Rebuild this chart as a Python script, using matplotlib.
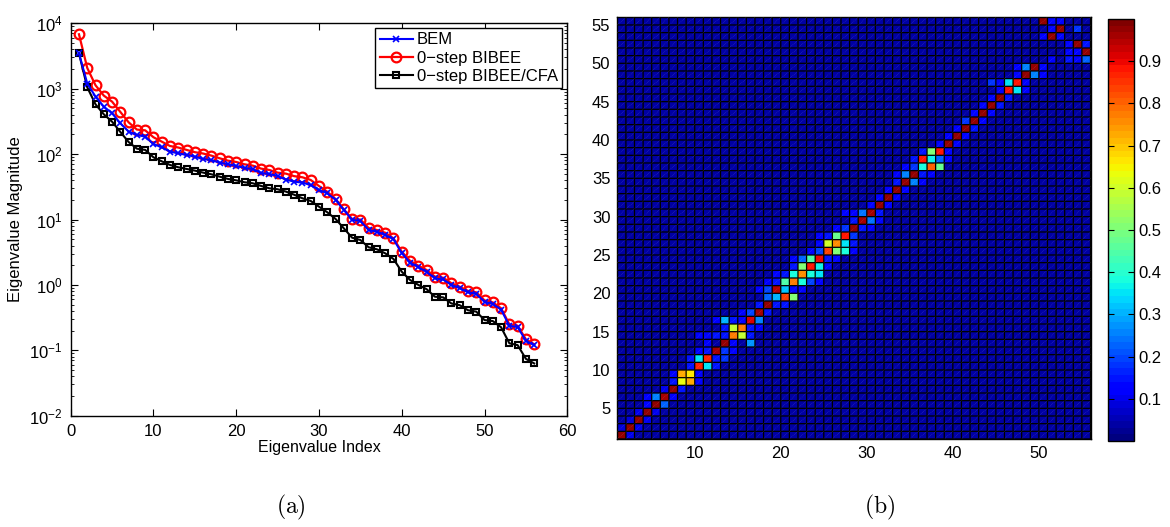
import numpy as np
import matplotlib
matplotlib.use("Agg")
import matplotlib.pyplot as plt

plt.rcParams['font.family'] = ['Liberation Sans', 'DejaVu Sans']
plt.rcParams['mathtext.fontset'] = 'cm'

# ---------------- data: eigenvalue spectra (panel a) ----------------
eig_index = list(range(1, 57))
bem = [3475, 1200, 757, 532, 421, 296, 221, 196, 185, 143, 127, 109, 103, 97, 91.5, 84,
       81, 74, 70, 65.9, 61.5, 59, 51.5, 49.6, 46.3, 40.8, 37.9, 36.6, 33.7, 28.3, 25.1,
       20.0, 14.0, 9.9, 9.5, 6.9, 6.5, 5.8, 5.0, 3.05, 2.2, 1.86, 1.58, 1.26, 1.21, 1.0,
       0.89, 0.77, 0.73, 0.55, 0.51, 0.42, 0.237, 0.226, 0.14, 0.119]
bibee = [6790, 2075, 1127, 784, 634, 441, 306, 237, 231, 181, 155, 133, 126, 116, 107, 102,
         94.8, 86.3, 79.4, 75.8, 69.8, 66.6, 60.0, 57.2, 52.1, 50.3, 46.0, 44.2, 40.2, 32.5,
         26.6, 20.6, 14.3, 10.2, 10.0, 7.41, 6.9, 6.28, 5.15, 3.22, 2.34, 1.97, 1.69, 1.34,
         1.29, 1.06, 0.94, 0.81, 0.77, 0.58, 0.54, 0.44, 0.25, 0.238, 0.147, 0.124]
bibee_cfa = [3475, 1050, 577, 406, 313, 218, 153, 121, 116, 89.3, 77.6, 68.2, 62.9, 59.3,
             55.9, 52.1, 49.1, 45.2, 41.7, 39.7, 37.1, 35.8, 32.6, 30.0, 29.0, 26.7, 23.9,
             21.1, 19.2, 15.7, 12.9, 10.2, 7.33, 5.27, 4.86, 3.76, 3.50, 3.04, 2.49, 1.59,
             1.19, 1.0, 0.86, 0.66, 0.645, 0.52, 0.49, 0.41, 0.39, 0.29, 0.28, 0.225, 0.128,
             0.12, 0.074, 0.063]
series_labels = ['BEM', '0\u2212step BIBEE', '0\u2212step BIBEE/CFA']

# ---------------- data: eigenvector overlap matrix (panel b) ----------------
n_cells = 55
background = 0.035
# strong entries (row, col, value)
strong_rows = [1, 2, 3, 4, 5, 6, 7, 12, 13, 16, 17, 18, 20, 28, 29, 30, 31, 32, 33, 34, 35,
               39, 40, 41, 42, 43, 44, 45, 48, 49, 51, 52, 53, 54, 55,
               8, 8, 9, 9, 10, 10, 11, 11, 14, 14, 15, 15, 5, 6, 13, 16, 16,
               19, 19, 19, 19, 20, 20, 21, 21, 21, 21, 22, 22, 22, 22, 23, 23, 23, 24, 24, 24,
               25, 25, 25, 26, 26, 26, 27, 27, 29, 30, 34, 35,
               36, 36, 36, 37, 37, 37, 38, 38, 46, 46, 47, 47, 48, 49, 50, 50]
strong_cols = [1, 2, 3, 4, 5, 6, 7, 12, 13, 16, 17, 18, 19, 28, 29, 30, 31, 32, 33, 34, 35,
               39, 40, 41, 42, 43, 44, 45, 48, 49, 55, 54, 51, 52, 50,
               8, 9, 8, 9, 10, 11, 10, 11, 14, 15, 14, 15, 6, 5, 16, 13, 17,
               18, 19, 20, 21, 18, 20, 20, 21, 22, 23, 21, 22, 23, 24, 22, 23, 24, 22, 23, 24,
               25, 26, 27, 25, 26, 27, 26, 27, 30, 29, 35, 34,
               36, 37, 38, 36, 37, 38, 37, 38, 46, 47, 46, 47, 49, 48, 53, 55]
strong_vals = [0.98, 0.98, 0.98, 0.98, 0.97, 0.96, 0.98, 0.96, 0.97, 0.91, 0.96, 0.97, 0.95,
               0.97, 0.96, 0.96, 0.98, 0.98, 0.98, 0.97, 0.97, 0.98, 0.98, 0.98, 0.97, 0.98,
               0.98, 0.98, 0.97, 0.97, 0.98, 0.98, 0.98, 0.98, 0.98,
               0.63, 0.72, 0.73, 0.67, 0.87, 0.35, 0.35, 0.87, 0.77, 0.58, 0.58, 0.77, 0.22,
               0.25, 0.28, 0.30, 0.25,
               0.22, 0.30, 0.83, 0.50, 0.20, 0.32, 0.45, 0.78, 0.38, 0.20, 0.38, 0.75, 0.38,
               0.35, 0.50, 0.88, 0.36, 0.22, 0.45, 0.90,
               0.83, 0.50, 0.38, 0.60, 0.75, 0.35, 0.48, 0.88, 0.24, 0.24, 0.25, 0.25,
               0.38, 0.80, 0.48, 0.88, 0.37, 0.22, 0.50, 0.88, 0.88, 0.35, 0.35, 0.88, 0.25,
               0.25, 0.15, 0.22]
# weaker near-diagonal entries (row, col, value)
weak_rows = [1, 2, 2, 3, 3, 4, 4, 5, 6, 6, 7, 7, 8, 8, 9, 9, 10, 10, 11, 11, 11, 12, 12, 12,
             12, 13, 13, 14, 14, 14, 14, 14, 15, 15, 15, 16, 16, 16, 17, 17, 17, 18, 18, 18,
             20, 20, 20, 21, 21, 21, 22, 22, 23, 23, 24, 24, 24, 25, 25, 25, 26, 26, 27, 27,
             27, 28, 28, 28, 28, 29, 29, 30, 30, 30, 31, 31, 32, 32, 33, 33, 34, 34, 35, 35,
             35, 36, 36, 37, 37, 38, 38, 39, 39, 40, 40, 41, 41, 42, 42, 43, 43, 44, 44, 45,
             45, 46, 46, 47, 47, 47, 48, 48, 49, 49, 50, 50, 51, 51, 52, 52, 53, 53, 54, 54,
             55, 55]
weak_cols = [2, 1, 3, 4, 2, 3, 5, 4, 4, 7, 6, 8, 7, 10, 7, 10, 9, 12, 9, 12, 13, 10, 11, 13,
             14, 11, 14, 10, 11, 12, 13, 16, 13, 16, 17, 12, 14, 15, 16, 18, 15, 17, 19, 20,
             17, 21, 22, 18, 19, 24, 19, 20, 21, 25, 21, 25, 26, 23, 24, 28, 24, 28, 25, 28,
             24, 26, 27, 29, 30, 28, 31, 28, 31, 27, 30, 32, 31, 33, 32, 34, 33, 36, 33, 36,
             37, 35, 34, 35, 39, 36, 39, 38, 40, 39, 41, 40, 42, 41, 43, 42, 44, 43, 45, 44,
             46, 45, 48, 44, 45, 48, 47, 50, 47, 50, 54, 51, 53, 54, 53, 55, 52, 50, 54, 51,
             51, 52]
weak_vals = [0.10, 0.08, 0.10, 0.10, 0.08, 0.10, 0.10, 0.14, 0.12, 0.12, 0.10, 0.15, 0.15,
             0.12, 0.12, 0.12, 0.15, 0.15, 0.15, 0.15, 0.18, 0.14, 0.15, 0.18, 0.12, 0.12,
             0.12, 0.13, 0.14, 0.15, 0.15, 0.15, 0.15, 0.15, 0.12, 0.12, 0.15, 0.14, 0.20,
             0.15, 0.12, 0.15, 0.15, 0.15, 0.12, 0.14, 0.12, 0.12, 0.15, 0.12, 0.14, 0.15,
             0.15, 0.14, 0.14, 0.15, 0.12, 0.13, 0.20, 0.12, 0.14, 0.15, 0.15, 0.18, 0.12,
             0.14, 0.18, 0.15, 0.12, 0.15, 0.14, 0.12, 0.15, 0.14, 0.14, 0.12, 0.13, 0.12,
             0.12, 0.12, 0.15, 0.12, 0.12, 0.15, 0.12, 0.18, 0.12, 0.15, 0.12, 0.15, 0.14,
             0.14, 0.12, 0.12, 0.14, 0.12, 0.15, 0.18, 0.12, 0.14, 0.13, 0.14, 0.15, 0.13,
             0.15, 0.14, 0.12, 0.18, 0.14, 0.12, 0.14, 0.12, 0.12, 0.14, 0.13, 0.12, 0.13,
             0.14, 0.13, 0.15, 0.14, 0.12, 0.18, 0.13, 0.13, 0.12]
cbar_ticks = [0.1, 0.2, 0.3, 0.4, 0.5, 0.6, 0.7, 0.8, 0.9]

# ---------------- figure ----------------
W, H = 1170, 527
fig = plt.figure(figsize=(W / 100, H / 100), dpi=100)
fig.patch.set_facecolor('white')

def frac(x0, y0, x1, y1):
    return [x0 / W, 1 - y1 / H, (x1 - x0) / W, (y1 - y0) / H]

# ---- panel (a)
ax1 = fig.add_axes(frac(70.7, 23.3, 567.3, 415.7))
ax1.semilogy(eig_index, bem, '-', color='#0000ff', lw=1.5, marker='x', ms=4, mew=1.2,
             label=series_labels[0], zorder=3)
ax1.semilogy(eig_index, bibee, '-', color='#ff0000', lw=1.6, marker='o', ms=7, mew=1.6,
             mfc='none', label=series_labels[1], zorder=2)
ax1.semilogy(eig_index, bibee_cfa, '-', color='black', lw=1.5, marker='s', ms=5, mew=1.5,
             mfc='none', label=series_labels[2], zorder=2)
ax1.set_xlim(0, 60)
ax1.set_ylim(1e-2, 1e4)
ax1.set_xticks([0, 10, 20, 30, 40, 50, 60])
ax1.tick_params(axis='both', which='major', direction='in', top=True, right=True,
                length=5, width=0.8, labelsize=12, pad=6)
ax1.tick_params(axis='y', which='minor', direction='in', left=True, right=True,
                length=2.5, width=0.6)
ax1.tick_params(axis='x', which='minor', bottom=False, top=False)
for sp in ax1.spines.values():
    sp.set_linewidth(1.0)
ax1.set_xlabel('Eigenvalue Index', fontsize=11.5, labelpad=1)
ax1.set_ylabel('Eigenvalue Magnitude', fontsize=12, labelpad=4)
leg = ax1.legend(loc='upper right', fontsize=12, frameon=True, fancybox=False,
                 edgecolor='black', framealpha=1, borderaxespad=0.3, handlelength=2.0,
                 handletextpad=0.25, labelspacing=0.2, borderpad=0.25)
leg.get_frame().set_linewidth(1.0)

# ---- panel (b)
M = np.full((n_cells, n_cells), background)
for r, c, v in zip(weak_rows, weak_cols, weak_vals):
    M[r - 1, c - 1] = v
for r, c, v in zip(strong_rows, strong_cols, strong_vals):
    M[r - 1, c - 1] = v
edges = np.arange(1, n_cells + 2)
cmap = plt.get_cmap('jet', 64)

ax2 = fig.add_axes(frac(617.3, 17.3, 1090.5, 439))
mesh = ax2.pcolormesh(edges, edges, M, cmap=cmap, vmin=0.0, vmax=1.0,
                      edgecolors='none', antialiased=False)
# cell borders
ax2.vlines(edges, edges[0], edges[-1], colors='black', lw=0.9, snap=False, zorder=2)
ax2.hlines(edges, edges[0], edges[-1], colors='black', lw=0.9, snap=False, zorder=2)
# faint rendering seams across each cell (as in the original rendering)
for k in range(-n_cells + 1, n_cells):
    ax2.plot([edges[0], edges[-1]], [edges[0] + k, edges[-1] + k], color='white',
             lw=0.4, alpha=0.3, ls=(0, (1, 2)), zorder=3)
ax2.set_xlim(edges[0], edges[-1])
ax2.set_ylim(edges[0], edges[-1])
ax2.set_xticks([10, 20, 30, 40, 50])
ax2.set_yticks([5, 10, 15, 20, 25, 30, 35, 40, 45, 50, 55])
ax2.tick_params(direction='in', length=0, labelsize=12, pad=5)
for sp in ax2.spines.values():
    sp.set_linewidth(1.0)

cax = fig.add_axes(frac(1108.3, 19, 1134.3, 441))
cb = fig.colorbar(mesh, cax=cax, ticks=cbar_ticks)
cb.ax.set_yticklabels([f'{t:.1f}' for t in cbar_ticks])
cb.ax.tick_params(direction='in', left=True, right=True, length=4, width=0.8,
                  labelsize=12, pad=3)
cb.outline.set_linewidth(1.0)

# ---- captions
fig.text(291 / W, 1 - 507 / H, r'$\mathrm{(a)}$', ha='center', va='center', fontsize=17)
fig.text(880 / W, 1 - 507 / H, r'$\mathrm{(b)}$', ha='center', va='center', fontsize=17)

fig.savefig('out.png', dpi=100)
